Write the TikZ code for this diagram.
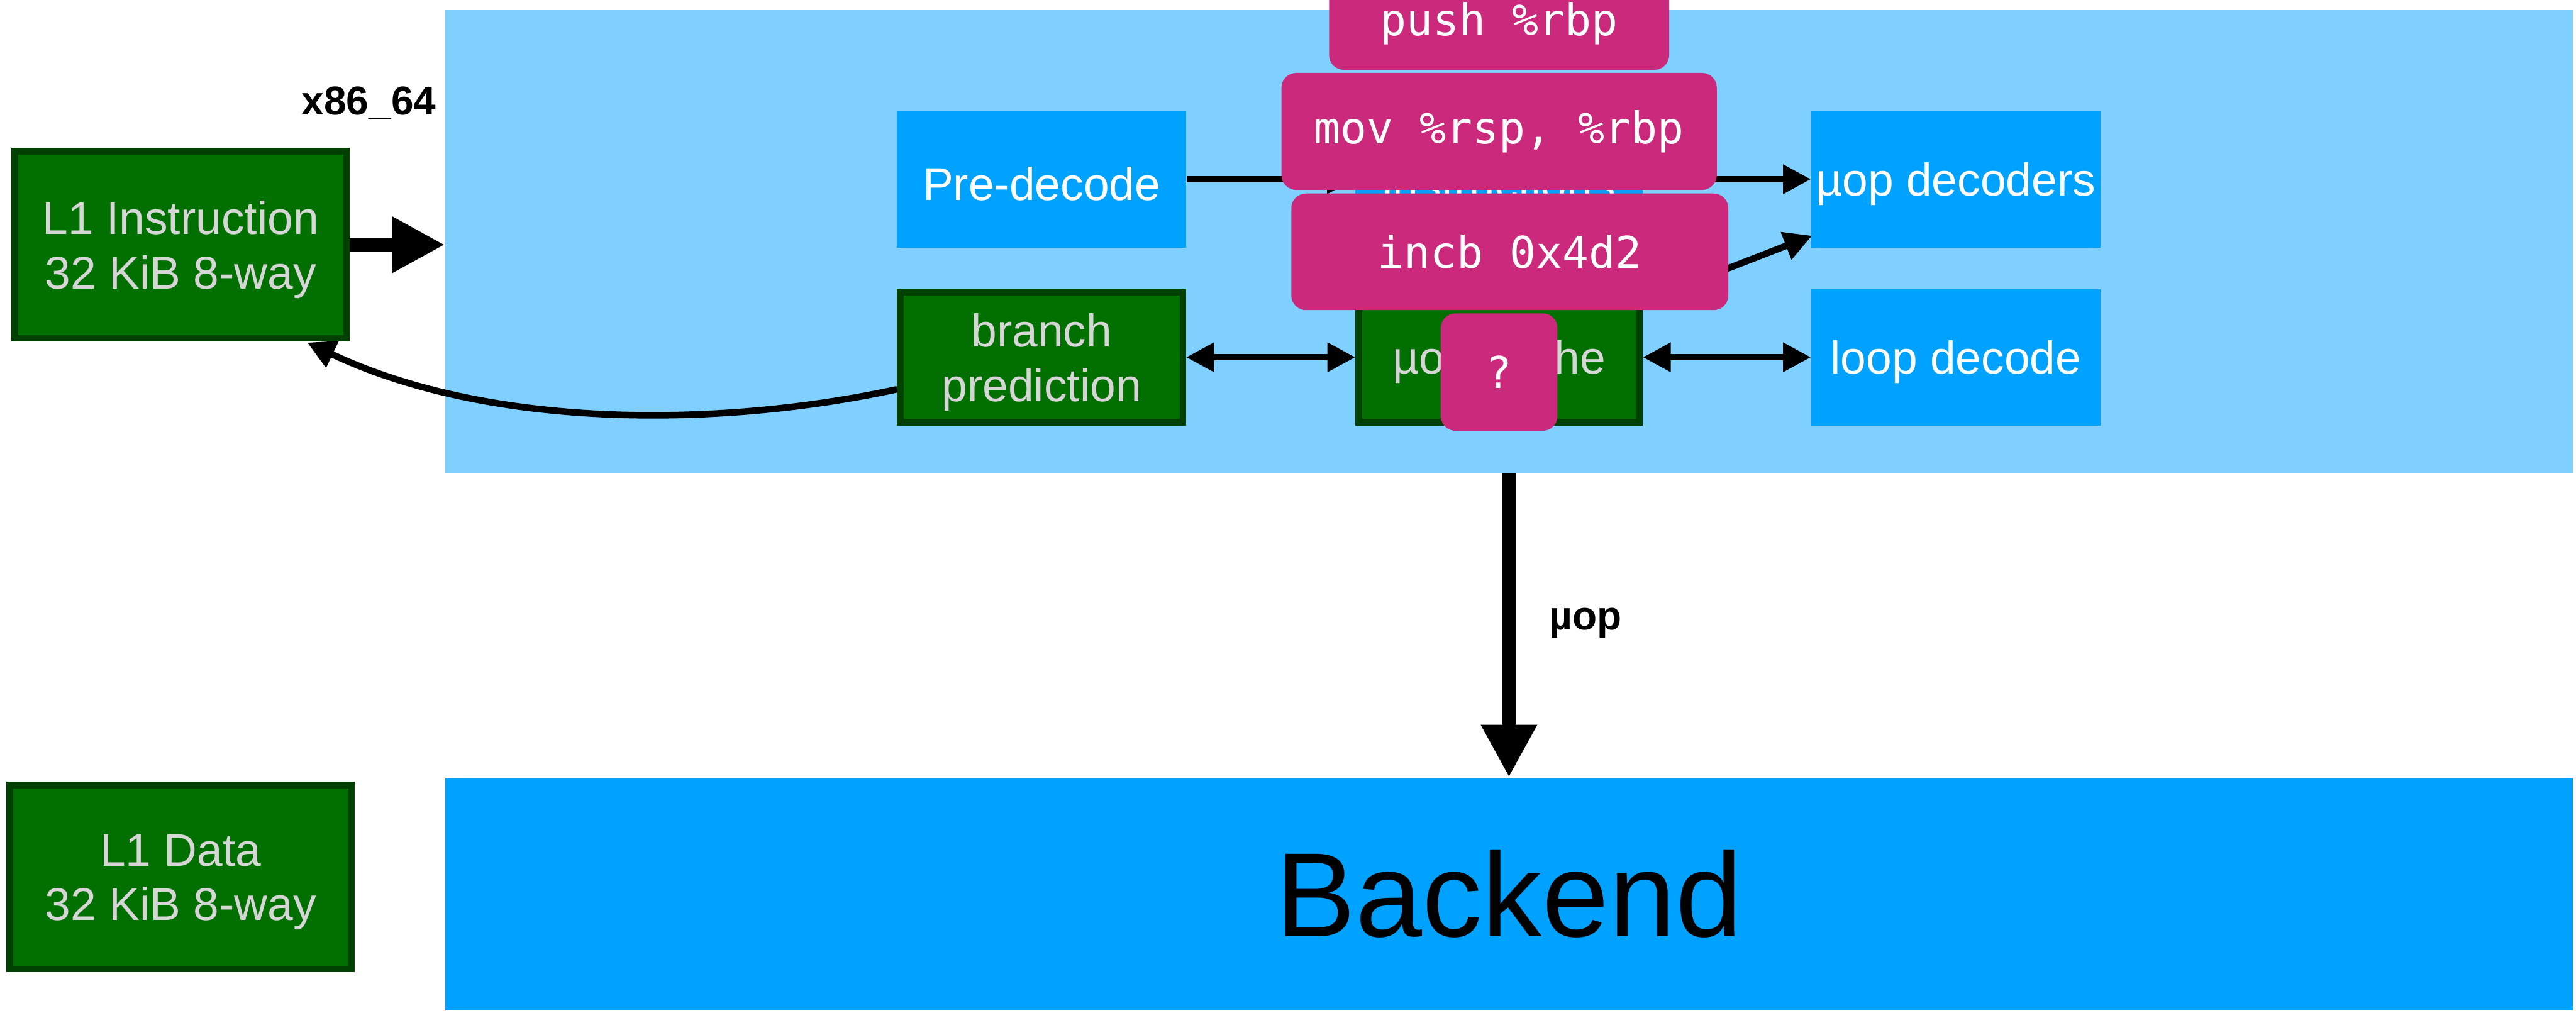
\documentclass[tikz,border=0pt]{standalone}
\usepackage{fontspec}
\setmainfont{Liberation Sans}
\newfontfamily\codefont{DejaVu Sans Mono}
\usetikzlibrary{arrows.meta}

\definecolor{frontblue}{RGB}{128,208,255}
\definecolor{unitblue}{RGB}{0,162,255}
\definecolor{cachegreen}{RGB}{2,112,0}
\definecolor{cacheedge}{RGB}{0,64,0}
\definecolor{labelgray}{RGB}{214,214,214}
\definecolor{asmpink}{RGB}{203,41,123}

\begin{document}
\begin{tikzpicture}[x=1pt,y=-1pt,
  stage/.style={fill=frontblue, inner sep=0pt},
  boxtext/.style={inner sep=0pt, align=center, yshift=-3pt,
    font=\fontsize{28}{33}\selectfont},
  unit/.style={fill=unitblue, inner sep=0pt,
    minimum width=176pt, minimum height=83.2pt,
    label={[boxtext, text=white]center:#1}},
  cache/.style={fill=cachegreen, draw=cacheedge, line width=4pt, inner sep=0pt,
    label={[boxtext, text=labelgray]center:#1}},
  asm/.style={fill=asmpink, text=white, rounded corners=9pt, inner sep=0pt,
    font=\codefont\fontsize{26.7}{32}\selectfont},
  link/.style={line width=4pt, -{Triangle[length=17pt,width=17pt]}},
  twoway/.style={line width=4pt, {Triangle[length=17pt,width=17pt]}-{Triangle[length=17pt,width=17pt]}},
  bus/.style={line width=8pt, -{Triangle[length=32pt,width=32pt]}},
  caption/.style={inner sep=0pt, anchor=base, font=\bfseries\fontsize{24.5}{28}\selectfont}
]
\clip (0,0) rectangle (1568,616.5);

% front end and back end
\node[stage, minimum width=1295pt, minimum height=281.7pt] (front) at (918.5,146.85) {};
\node[fill=unitblue, inner sep=0pt, minimum width=1295pt, minimum height=141.6pt,
      font=\fontsize{73}{82}\selectfont] (back) at (918.5,544.2) {Backend};

% L1 caches
\node[cache={L1 Instruction\\32 KiB 8-way}, minimum width=202pt, minimum height=114pt]
  (l1i) at (110,149) {};
\node[cache={L1 Data\\32 KiB 8-way}, minimum width=208pt, minimum height=112pt]
  (l1d) at (110,534) {};
\node[caption] (isa) at (224.5,69.7) {x86\_64};

% decode stages
\node[unit={Pre-decode}] (pre) at (634,109.1) {};
\node[unit={instructions}, minimum width=175pt] (inst) at (912.5,109.1) {};
\node[unit={µop decoders}] (udec) at (1190.5,109.1) {};
\node[cache={branch\\prediction}, minimum width=172pt, minimum height=79pt]
  (bp) at (634,217.5) {};
\node[cache={µop cache}, minimum width=171pt, minimum height=79pt]
  (ucache) at (912.5,217.5) {};
\node[unit={loop decode}, minimum height=83pt] (loop) at (1190.5,217.5) {};

% connectors
\coordinate (udecin) at (1103,143.5);
\coordinate (l1tip) at (187,208.5);
\draw[bus] (l1i.east) -- (l1i.east -| front.west);
\draw[bus] (front.south) -- (back.north);
\node[caption] (uoplabel) at (965,383.5) {µop};
\draw[link] (pre) -- (inst);
\draw[link] (inst) -- (udec);
\draw[link] (ucache) -- (udecin);
\draw[twoway] (bp) -- (ucache);
\draw[twoway] (ucache) -- (loop);
\draw[link] (bp.west |- 0,237) .. controls (440,260) and (300,262) .. (l1tip);

% instruction stream
\node[asm, minimum width=207pt, minimum height=56.5pt] (push) at (912.5,14.25) {push \%rbp};
\node[asm, minimum width=265pt, minimum height=71.2pt] (mov) at (912.5,80) {mov \%rsp, \%rbp};
\node[asm, minimum width=266pt, minimum height=71pt] (incb) at (919,153.3) {incb 0x4d2};
\node[asm, minimum width=71pt, minimum height=71.5pt] (unknown) at (912.5,226.5) {?};
\end{tikzpicture}
\end{document}
